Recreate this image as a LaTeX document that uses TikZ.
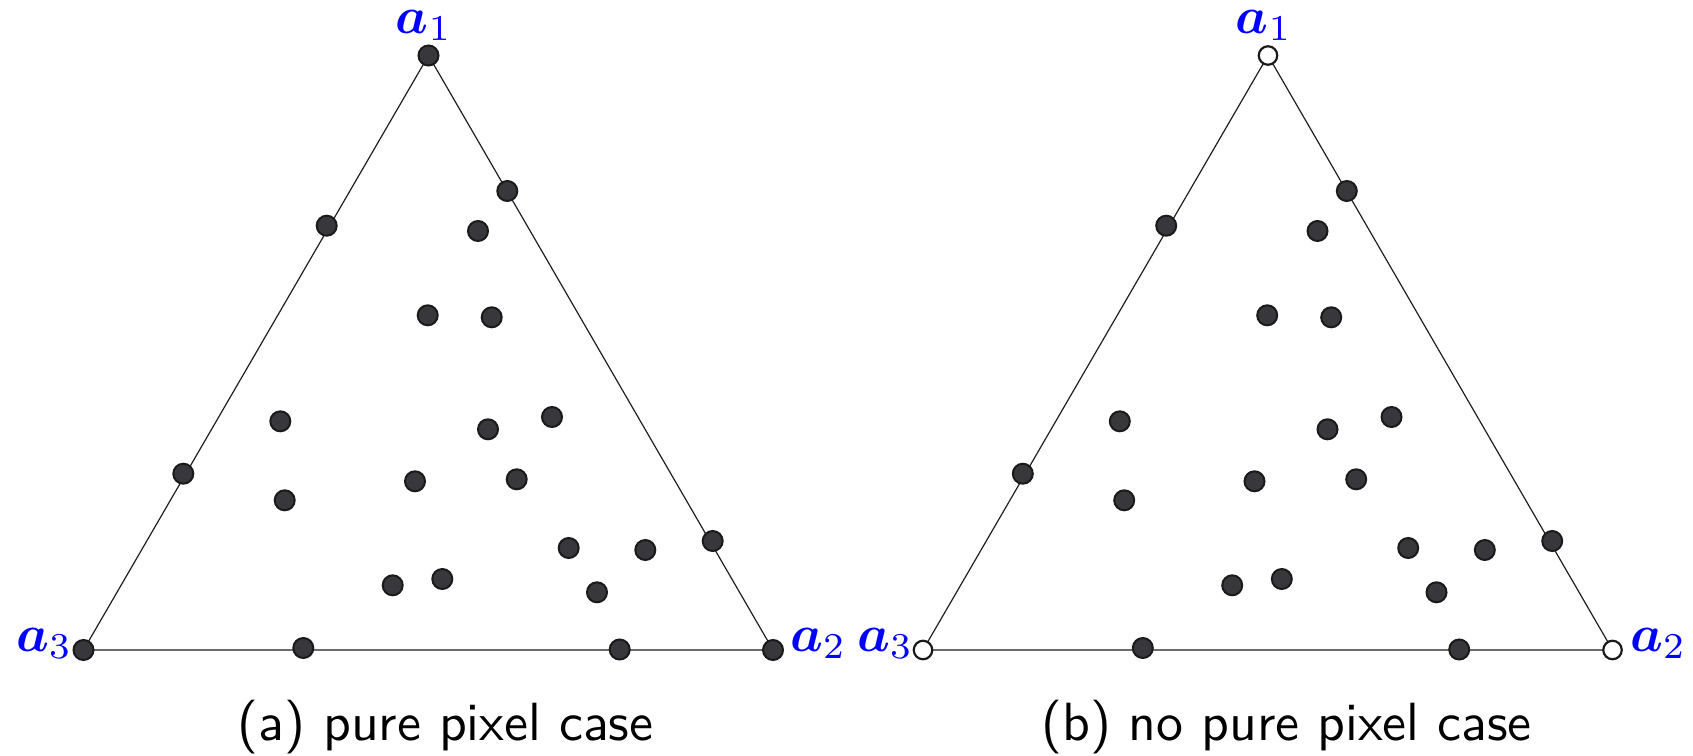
\documentclass[tikz,border=0pt]{standalone}
\usepackage{bm}
\usetikzlibrary{backgrounds}
\definecolor{dotfill}{HTML}{38373C}
\definecolor{dotline}{HTML}{1A1A1A}
\definecolor{lblue}{RGB}{0,0,255}
\begin{document}
\begin{tikzpicture}[x=1pt,y=-1pt,
  dotnode/.style={circle,fill=dotfill,draw=dotline,line width=2pt,minimum size=20pt,inner sep=0pt},
  hollow/.style={circle,fill=white,draw=dotline,line width=2.2pt,minimum size=18.5pt,inner sep=0pt},
  edgeline/.style={line width=1.2pt,draw=black!88},
  lbl/.style={text=lblue,inner sep=0pt},
  captext/.style={inner sep=0pt,anchor=base}]
\useasboundingbox (0,0) rectangle (1693,755);
% ---------- (a) ----------
\begin{scope}[name prefix=L-]
  \node[dotnode] (v1) at (428.5,55.5) {};
  \node[dotnode] (v2) at (773,650) {};
  \node[dotnode] (v3) at (83.5,650) {};
  \begin{scope}[on background layer]
    \draw[edgeline] (v1.center) -- (v2.center) -- (v3.center) -- cycle;
  \end{scope}
  \foreach \x/\y [count=\k] in {507.3/191,326.7/225.7,183.3/473.7,712.7/541,303.3/648,619.7/649.5}
    \node[dotnode] (e\k) at (\x,\y) {};
  \foreach \x/\y [count=\k] in {478/231,427.7/315.3,491.7/317.3,280.3/421.3,552/417,488/429.3,284.7/500.3,415/481.3,516.7/479.3,568.7/548,645.3/550,442.3/579,392.7/585.3,597/592.3}
    \node[dotnode] (p\k) at (\x,\y) {};
  \node[lbl,anchor=base] (t1) at (424,33) {\scalebox{5.2}{$\bm{a}_1$}};
  \node[lbl,anchor=base west] (t2) at (790,651) {\scalebox{5.2}{$\bm{a}_2$}};
  \node[lbl,anchor=base west] (t3) at (16,651) {\scalebox{5.2}{$\bm{a}_3$}};
  \node[captext] (capt) at (445.5,740) {\scalebox{5.38}{\sffamily (a) pure pixel case}};
\end{scope}
% ---------- (b) ----------
\begin{scope}[name prefix=R-,xshift=839.5pt]
  \node[hollow] (v1) at (428.5,55.5) {};
  \node[hollow] (v2) at (773,650) {};
  \node[hollow] (v3) at (83.5,650) {};
  \begin{scope}[on background layer]
    \draw[edgeline] (v1.center) -- (v2.center) -- (v3.center) -- cycle;
  \end{scope}
  \foreach \x/\y [count=\k] in {507.3/191,326.7/225.7,183.3/473.7,712.7/541,303.3/648,619.7/649.5}
    \node[dotnode] (e\k) at (\x,\y) {};
  \foreach \x/\y [count=\k] in {478/231,427.7/315.3,491.7/317.3,280.3/421.3,552/417,488/429.3,284.7/500.3,415/481.3,516.7/479.3,568.7/548,645.3/550,442.3/579,392.7/585.3,597/592.3}
    \node[dotnode] (p\k) at (\x,\y) {};
  \node[lbl,anchor=base] (t1) at (424.5,33) {\scalebox{5.2}{$\bm{a}_1$}};
  \node[lbl,anchor=base west] (t2) at (790.5,651) {\scalebox{5.2}{$\bm{a}_2$}};
  \node[lbl,anchor=base west] (t3) at (17.5,651) {\scalebox{5.2}{$\bm{a}_3$}};
  \node[captext] (capt) at (447,740) {\scalebox{5.38}{\sffamily (b) no pure pixel case}};
\end{scope}
\end{tikzpicture}
\end{document}
